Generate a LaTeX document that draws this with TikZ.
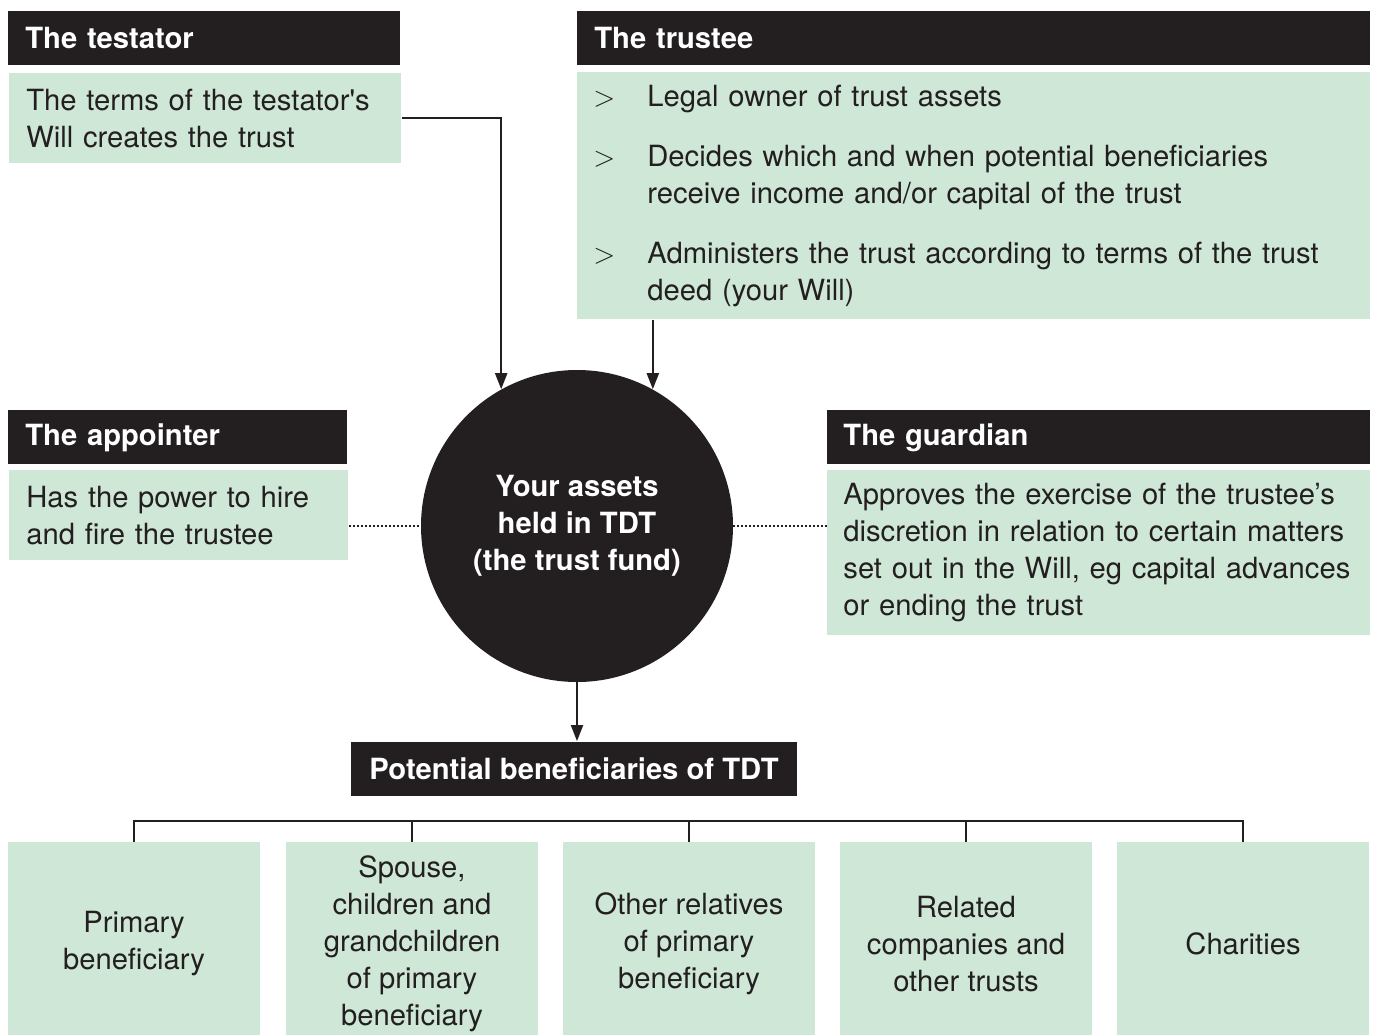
\documentclass[tikz,border=0pt]{standalone}
\usepackage{fontspec}
\setmainfont{TeX Gyre Heros}
\usetikzlibrary{arrows.meta}
\definecolor{inkdark}{HTML}{231F20}
\definecolor{mint}{HTML}{CFE7D6}
\newcommand{\bodyfont}{\fontsize{14.6pt}{18.5pt}\selectfont}
\tikzset{
	headbox/.style={fill=inkdark,text=white,font=\bodyfont\bfseries,anchor=north west,
		minimum height=27pt,inner xsep=8.5pt,inner ysep=0pt,align=left},
	textbox/.style={fill=mint,text=inkdark,font=\bodyfont,anchor=north west,
		inner xsep=8.5pt,inner ysep=0pt,align=left},
	leafbox/.style={fill=mint,text=inkdark,font=\bodyfont,minimum width=126pt,
		minimum height=102pt,inner sep=0pt,align=center},
	fundcircle/.style={circle,fill=inkdark,text=white,font=\bodyfont\bfseries,
		minimum size=156pt,inner sep=0pt,align=center},
	link/.style={draw=inkdark,line width=1pt},
	arrow/.style={link,-{Triangle[length=8pt,width=6pt]}},
	dotline/.style={draw=inkdark,line width=1pt,dash pattern=on 1pt off 1pt}}

\begin{document}
\begin{tikzpicture}[x=0.5pt,y=-0.5pt]
	\useasboundingbox (0,0) rectangle (1375,1034);
	\clip (0,0) rectangle (1375,1034);
	% roles
	\node[headbox,text width=179pt] (testhead) at (8,11) {The testator};
	\node[textbox,text width=179pt,minimum height=45pt] (testbody) at (9,73)
		{The terms of the testator\textquotesingle s\\Will creates the trust};
	\node[headbox,text width=379.5pt] (trusthead) at (577,11) {The trustee};
	\node[textbox,inner xsep=8pt,text width=380.5pt,minimum height=123.5pt] (trustbody) at (577,72)
		{\begin{tabular}{@{}p{27pt}@{}l@{}}
			$>$ & Legal owner of trust assets\\[11.5pt]
			$>$ & Decides which and when potential beneficiaries\\
			& receive income and/or capital of the trust\\[11.5pt]
			$>$ & Administers the trust according to terms of the trust\\
			& deed (your Will)
		\end{tabular}};
	\node[headbox,text width=152.5pt] (apphead) at (8,410) {The appointer};
	\node[textbox,text width=152.5pt,minimum height=45pt] (appbody) at (9,470)
		{Has the power to hire\\and fire the trustee};
	\node[headbox,inner xsep=8pt,text width=255.5pt] (guardhead) at (827,410) {The guardian};
	\node[textbox,inner xsep=8pt,text width=255.5pt,minimum height=82.5pt] (guardbody) at (827,470)
		{Approves the exercise of the trustee’s\\discretion in relation to certain matters\\
		set out in the Will, eg capital advances\\or ending the trust};
	\node[fundcircle] (fund) at (577,526) {Your assets\\held in TDT\\(the trust fund)};
	\node[headbox,anchor=center,minimum width=223pt,align=center] (potential) at (574,768.5)
		{Potential beneficiaries of TDT};
	% beneficiaries
	\begin{scope}[every node/.style={leafbox}]
		\node (b1) at (134,944) {Primary\\beneficiary};
		\node (b2) at (412,944) {Spouse,\\children and\\grandchildren\\of primary\\beneficiary};
		\node (b3) at (689,944) {Other relatives\\of primary\\beneficiary};
		\node (b4) at (966,944) {Related\\companies and\\other trusts};
		\node (b5) at (1243,944) {Charities};
	\end{scope}
	% connectors
	\coordinate (bar) at (0,821);
	\draw[arrow] (testbody.east) -| (fund.119);
	\draw[arrow] (fund.61 |- trustbody.south) -- (fund.61);
	\draw[dotline] (fund.west -| appbody.east) -- (fund.west);
	\draw[dotline] (fund.east) -- (fund.east -| guardbody.west);
	\draw[arrow] (fund.south) -- (fund.south |- potential.north);
	\draw[link] (b1.north) |- (b5.north |- bar) -- (b5.north);
	\draw[link] (b2.north) -- (b2.north |- bar);
	\draw[link] (b3.north) -- (b3.north |- bar);
	\draw[link] (b4.north) -- (b4.north |- bar);
\end{tikzpicture}
\end{document}
